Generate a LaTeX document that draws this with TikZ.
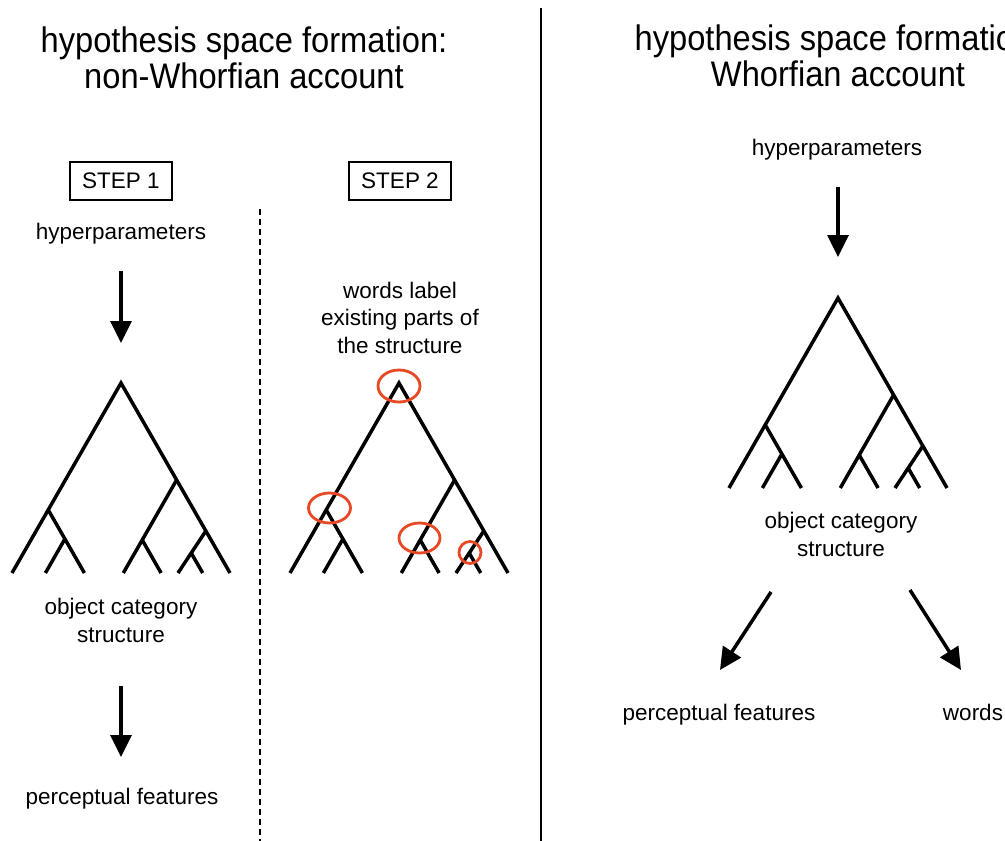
\documentclass[tikz,border=0pt]{standalone}
\usepackage{fontspec}
\setmainfont{Liberation Sans}
\newfontfamily\titlefont[FakeStretch=0.92]{Liberation Sans}
\usetikzlibrary{arrows.meta,shapes.geometric}

\definecolor{ringred}{RGB}{232,72,36}

\tikzset{
  treeline/.style={line width=3.5pt, line join=miter},
  bigarrow/.style={line width=3.5pt, -{Triangle[length=22pt,width=21pt]}},
  lbl/.style={font=\fontsize{22.5}{27.5}\selectfont, align=center, inner sep=0pt, anchor=base},
  ttl/.style={font=\titlefont\fontsize{35.5}{36}\selectfont, align=center, inner sep=0pt, anchor=base},
  stepbox/.style={draw, line width=1.4pt, font=\fontsize{22.5}{27}\selectfont,
                  minimum width=102pt, minimum height=38pt, inner sep=0pt},
  redring/.style={draw=ringred, line width=2.8pt, ellipse, inner sep=0pt},
  divider/.style={line width=2.2pt},
  stepline/.style={line width=2pt, dash pattern=on 6pt off 4pt},
  % object category tree, apex at the pic origin
  cattree/.pic={
    \draw[treeline] (-109,190) -- (0,0) -- (109,190);
    \draw[treeline] (-72.7,127) -- (-36.6,190);
    \draw[treeline] (-56.1,156) -- (-75.6,190);
    \draw[treeline] (55.6,97) -- (2.3,190);
    \draw[treeline] (21.2,157) -- (40.1,190);
    \draw[treeline] (84.8,148) -- (57,190);
    \draw[treeline] (70.2,170) -- (81.7,190);
  }
}

\begin{document}
\begin{tikzpicture}[x=1pt,y=-1pt]
\clip (0,0) rectangle (1005,841);
\fill[white] (0,0) rectangle (1005,841);

% separators
\coordinate (divtop) at (541,8);
\coordinate (divbot) at (541,841);
\draw[divider] (divtop) -- (divbot);
\coordinate (steptop) at (260,209);
\coordinate (stepbot) at (260,841);
\draw[stepline] (steptop) -- (stepbot);

% titles (base anchor sits on the last line)
\node[ttl] (titleL) at (244,88) {hypothesis space formation:\\non-Whorfian account};
\node[ttl] (titleR) at (838,86) {hypothesis space formation:\\Whorfian account};

% ---- non-Whorfian, step 1
\node[stepbox] (step1) at (121,181) {STEP 1};
\node[lbl] (hypL) at (121,239) {hyperparameters};
\coordinate (a1s) at (121,271);
\coordinate (a1e) at (121,343);
\draw[bigarrow] (a1s) -- (a1e);
\pic at (121,383) {cattree};
\node[lbl] (ocsL) at (121,642) {object category\\structure};
\coordinate (a2s) at (121,686);
\coordinate (a2e) at (121,757);
\draw[bigarrow] (a2s) -- (a2e);
\node[lbl] (pfL) at (122,804) {perceptual features};

% ---- non-Whorfian, step 2
\node[stepbox] (step2) at (400,181) {STEP 2};
\node[lbl] (wl) at (400,353) {words label\\existing parts of\\the structure};
\pic at (399,383) {cattree};
\node[redring, minimum width=42pt, minimum height=32pt] (r1) at (399,386) {};
\node[redring, minimum width=42pt, minimum height=30pt] (r2) at (329.5,508) {};
\node[redring, minimum width=41pt, minimum height=30pt] (r3) at (419.5,538) {};
\node[redring, minimum width=22pt, minimum height=22pt] (r4) at (470,552.5) {};

% ---- Whorfian
\node[lbl] (hypR) at (837,155) {hyperparameters};
\coordinate (a3s) at (838,187);
\coordinate (a3e) at (838,257);
\draw[bigarrow] (a3s) -- (a3e);
\pic at (838,298) {cattree};
\node[lbl] (ocsR) at (841,556) {object category\\structure};
\coordinate (a4s) at (771,592);
\coordinate (a4e) at (720,670);
\draw[bigarrow] (a4s) -- (a4e);
\coordinate (a5s) at (910,590);
\coordinate (a5e) at (961,670);
\draw[bigarrow] (a5s) -- (a5e);
\node[lbl] (pfR) at (719,720) {perceptual features};
\node[lbl] (words) at (973,720) {words};
\end{tikzpicture}
\end{document}
